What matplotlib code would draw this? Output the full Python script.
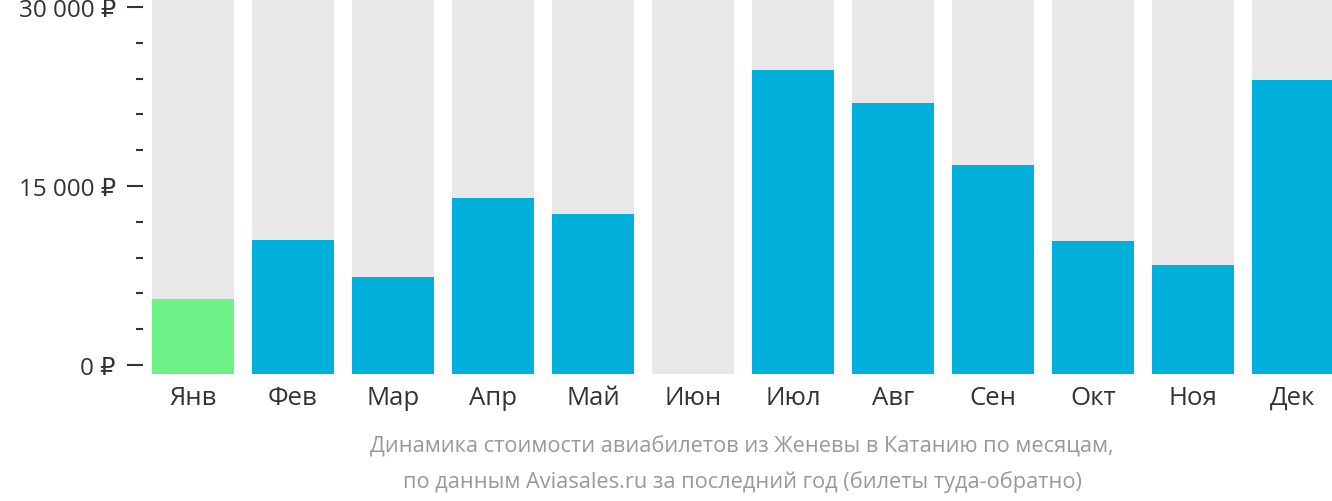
import matplotlib.pyplot as plt
from matplotlib.ticker import MultipleLocator

plt.rcParams['font.family'] = ['Open Sans', 'DejaVu Sans']

months = ['Янв', 'Фев', 'Мар', 'Апр', 'Май', 'Июн',
          'Июл', 'Авг', 'Сен', 'Окт', 'Ноя', 'Дек']
prices = [5560, 10450, 7330, 13990, 12640, None,   # no data for June
          24690, 21990, 16770, 10365, 8340, 23850]
cheapest = 0  # index of the cheapest month (green)

ymin, ytop = -760, 30670   # bars start a bit below the 0 tick
fig = plt.figure(figsize=(13.32, 5.02), dpi=100)
ax = fig.add_axes([143 / 1332, 127 / 502, 1189 / 1332, 375 / 502])

x = list(range(len(months)))
ax.bar(x, [ytop - ymin] * len(months), bottom=ymin, width=0.825, color='#e8e8e8')
for i, p in zip(x, prices):
    if p is None:
        continue
    ax.bar(i, p - ymin, bottom=ymin, width=0.825,
           color='#6cf287' if i == cheapest else '#00b0db')

ax.set_xlim(-0.5, 11.39)
ax.set_ylim(ymin, ytop)
for s in ax.spines.values():
    s.set_visible(False)

ax.set_yticks([0, 15000, 30000])
ax.set_yticklabels(['0 ₽', '15 000 ₽', '30 000 ₽'])
ax.yaxis.set_minor_locator(MultipleLocator(3000))
ax.tick_params(axis='y', which='major', length=11.5, width=1.5, color='#333333',
               labelsize=17.5, labelcolor='#333333', pad=8)
ax.tick_params(axis='y', which='minor', length=5, width=1.5, color='#333333')

ax.set_xticks(x)
ax.set_xticklabels(months)
ax.tick_params(axis='x', length=0, labelsize=18.5, labelcolor='#333333', pad=8)

fig.text(742 / 1332, 1 - 447 / 502,
         'Динамика стоимости авиабилетов из Женевы в Катанию по месяцам,',
         ha='center', va='center', fontsize=15.7, color='#999999')
fig.text(742 / 1332, 1 - 482 / 502,
         'по данным Aviasales.ru за последний год (билеты туда-обратно)',
         ha='center', va='center', fontsize=15.7, color='#999999')

fig.savefig('out.png', dpi=100)
